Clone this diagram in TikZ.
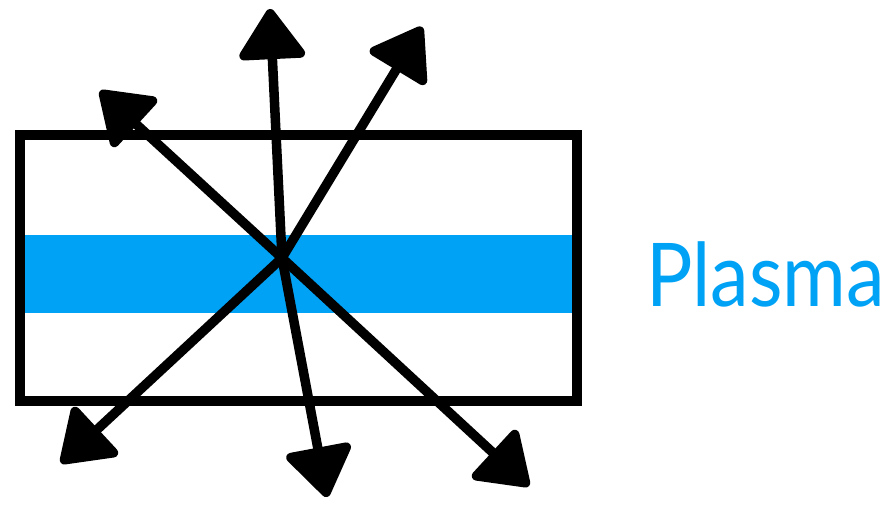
\documentclass[tikz,border=0pt]{standalone}
\usepackage{fontspec}
\usepackage{graphicx}
\setmainfont{Lato}
\usetikzlibrary{arrows.meta}
\definecolor{plasmablue}{RGB}{0,162,245}
\tikzset{
  box/.style={draw=black, line width=10pt, line join=miter},
  band/.style={fill=plasmablue, draw=none},
  ray/.style={draw=black, line width=9.5pt, line cap=round,
    -{Triangle[length=54pt, width=72pt, round]}},
  label/.style={text=plasmablue, inner sep=0pt, anchor=base west,
    font=\fontsize{88}{88}\selectfont}
}
\begin{document}
\begin{tikzpicture}[x=1pt, y=-1pt]
  \useasboundingbox (0,0) rectangle (891,505);
  % plasma band and vessel
  \path[band] (25,235) rectangle (572,313);
  \draw[box] (20,135) rectangle (577,401);
  % rays
  \coordinate (c) at (282,258);
  \coordinate (ul) at (100,91);
  \coordinate (top) at (270,9);
  \coordinate (ur) at (422,27);
  \coordinate (ll) at (61,463);
  \coordinate (bot) at (327,497);
  \coordinate (lr) at (529,486);
  \foreach \t in {ul,top,ur,ll,bot,lr}
    \draw[ray] (c) -- (\t);
  \node[label] (plasma) at (646,306) {\scalebox{0.88}[1]{Plasma}};
\end{tikzpicture}
\end{document}
